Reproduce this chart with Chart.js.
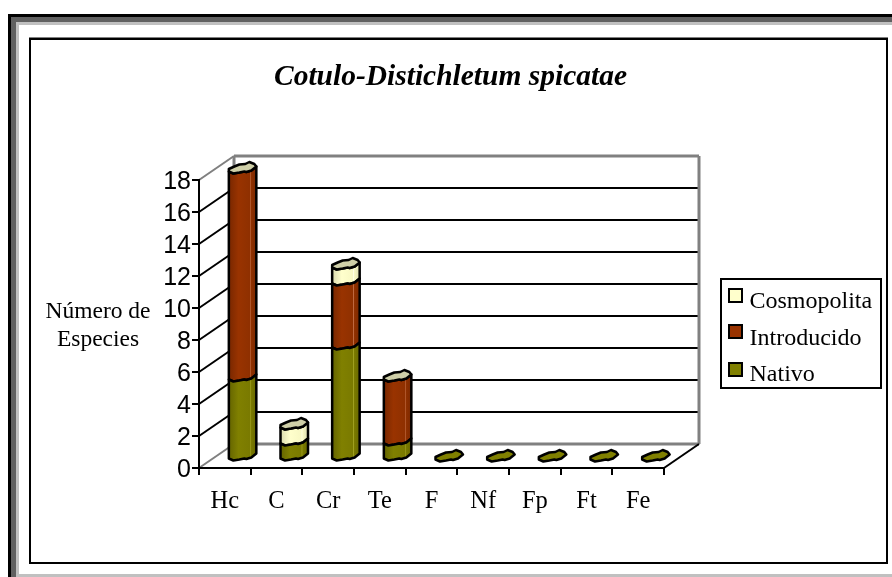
<!DOCTYPE html>
<html>
<head>
<meta charset="utf-8">
<title>Cotulo-Distichletum spicatae</title>
<style>
  html, body { margin: 0; padding: 0; background: #fff; }
  canvas { display: block; }
</style>
<script src="https://cdn.jsdelivr.net/npm/chart.js@4"></script>
</head>
<body>
<canvas id="chart" width="892" height="577"></canvas>
<script>
// Life-form spectrum of the association, split by species origin.
const categories = ['Hc', 'C', 'Cr', 'Te', 'F', 'Nf', 'Fp', 'Ft', 'Fe'];
const nativo      = [5, 1, 7, 1, 0, 0, 0, 0, 0];
const introducido = [13, 0, 4, 4, 0, 0, 0, 0, 0];
const cosmopolita = [0, 1, 1, 0, 0, 0, 0, 0, 0];
const chartTitle = 'Cotulo-Distichletum spicatae';
const axisTitle = ['Número de', 'Especies'];
const yMax = 18;
const yStep = 2;

const SERIF = '"Liberation Serif", "Times New Roman", serif';
const SANS = '"Liberation Sans", Arial, sans-serif';
const DEPTH_X = 35;      // floor depth of the 3D box
const DEPTH_Y = 24;
const WALL_GREY = '#808080';

// Colour stops for each column body: shaded edge, face, highlight strip, far edge.
const bodyShades = {
  '#808000': ['#666600', '#808000', '#7a7a00', '#a0a020', '#6b6b00'],
  '#993300': ['#7a2800', '#993300', '#8f3000', '#c06a40', '#7f2a00'],
  '#FFFFCC': ['#dcdcb0', '#ffffcc', '#f8f8c4', '#ffffe6', '#e0e0b4']
};

// Outline of a column's irregular section, relative to its centre.
const frontEdge = [[-13.5, 3.5], [-9, 5.5], [-3, 4.5], [2, 3.5], [4, 4], [9, 2.5], [14, -1.5]];
const backEdge = [[14, -1.5], [12, -4], [7, -6], [3, -4], [-3, -3.5], [-8, -1.5], [-13.5, 1]];

function traceEdge(ctx, edge, cx, cy, move) {
  edge.forEach(([dx, dy], i) => {
    if (i === 0 && move) ctx.moveTo(cx + dx, cy + dy);
    else ctx.lineTo(cx + dx, cy + dy);
  });
}

// Column segment: a bar pushed to mid-depth of the box with wavy ends.
class CylinderBar extends Chart.BarElement {
  static id = 'cylinderBar';
  draw(ctx) {
    const { x, y, base } = this.getProps(['x', 'y', 'base'], true);
    if (Math.abs(base - y) < 0.5) return;
    const cx = x + DEPTH_X / 2;
    const top = y - DEPTH_Y / 2;
    const bottom = base - DEPTH_Y / 2;
    const shades = bodyShades[this.options.backgroundColor];
    const g = ctx.createLinearGradient(cx - 13, 0, cx + 13, 0);
    g.addColorStop(0, shades[0]);
    g.addColorStop(0.35, shades[1]);
    g.addColorStop(0.78, shades[2]);
    g.addColorStop(0.8, shades[3]);
    g.addColorStop(0.84, shades[2]);
    g.addColorStop(1, shades[4]);
    ctx.save();
    ctx.beginPath();
    traceEdge(ctx, frontEdge, cx, bottom, true);
    traceEdge(ctx, [...frontEdge].reverse(), cx, top, false);
    ctx.closePath();
    ctx.fillStyle = g;
    ctx.fill();
    ctx.lineWidth = 2.5;
    ctx.lineJoin = 'round';
    ctx.strokeStyle = '#000';
    ctx.stroke();
    ctx.restore();
  }
}

class CylinderController extends Chart.BarController {
  static id = 'cylinderBar';
  static defaults = Object.assign({}, Chart.BarController.defaults, {
    dataElementType: 'cylinderBar'
  });
}
Chart.register(CylinderBar, CylinderController);

// Outer picture frame, the plot walls and floor lines behind the columns.
const backdrop = {
  id: 'backdrop',
  beforeDraw(chart) {
    const { ctx, chartArea: a, scales: { y } } = chart;
    ctx.save();
    ctx.fillStyle = '#000';
    ctx.fillRect(8, 14, 884, 563);
    ctx.fillStyle = '#606060';
    ctx.fillRect(11, 17, 881, 560);
    ctx.fillStyle = '#c0c0c0';
    ctx.fillRect(16, 22, 876, 555);
    ctx.fillStyle = '#fff';
    ctx.fillRect(19, 25, 873, 549);
    ctx.fillStyle = '#808080';
    ctx.fillRect(29, 37, 859, 1);
    ctx.lineWidth = 2;
    ctx.strokeStyle = '#000';
    ctx.strokeRect(30, 39, 857, 524);

    const left = a.left, right = a.right;
    const line = (x1, y1, x2, y2, color, width) => {
      ctx.beginPath();
      ctx.moveTo(x1, y1);
      ctx.lineTo(x2, y2);
      ctx.strokeStyle = color;
      ctx.lineWidth = width;
      ctx.stroke();
    };
    // Gridlines run along the side wall and then across the back wall.
    y.ticks.forEach(t => {
      const py = y.getPixelForValue(t.value);
      const edge = t.value === 0 || t.value === yMax;
      const color = edge ? WALL_GREY : '#000';
      line(left, py, left + DEPTH_X, py - DEPTH_Y, color, 2);
      line(left + DEPTH_X, py - DEPTH_Y, right + DEPTH_X, py - DEPTH_Y, color, edge ? 3 : 2);
    });
    const y0 = y.getPixelForValue(0), yTop = y.getPixelForValue(yMax);
    line(left + DEPTH_X, y0 - DEPTH_Y, left + DEPTH_X, yTop - DEPTH_Y, WALL_GREY, 3);
    line(right + DEPTH_X, y0 - DEPTH_Y, right + DEPTH_X, yTop - DEPTH_Y, WALL_GREY, 3);
    line(right, y0, right + DEPTH_X, y0 - DEPTH_Y, '#000', 2);
    ctx.restore();
  }
};

// Caps on the stacks, axis caption and the legend's frame and swatches.
const overlays = {
  id: 'overlays',
  afterLayout(chart) {
    const title = chart.titleBlock;
    title.left = 274;
    title.right = 627;
    const lg = chart.legend;
    lg.left = 718;
    lg.right = 883;
    lg.top = 277.5;
    lg.bottom = 460;
  },
  afterDatasetsDraw(chart) {
    const { ctx } = chart;
    const metas = chart.data.datasets.map((_, i) => chart.getDatasetMeta(i));
    ctx.save();
    categories.forEach((_, i) => {
      let topIndex = -1;
      chart.data.datasets.forEach((d, k) => { if (d.data[i] > 0) topIndex = k; });
      const bar = metas[Math.max(topIndex, 0)].data[i];
      const cx = bar.x + DEPTH_X / 2;
      const cy = bar.y - DEPTH_Y / 2;
      ctx.beginPath();
      traceEdge(ctx, frontEdge, cx, cy, true);
      traceEdge(ctx, backEdge, cx, cy, false);
      ctx.closePath();
      ctx.fillStyle = topIndex < 0 ? chart.data.datasets[0].backgroundColor : '#cfcfa8';
      ctx.fill();
      ctx.lineWidth = 2.5;
      ctx.lineJoin = 'round';
      ctx.strokeStyle = '#000';
      ctx.stroke();
    });
    ctx.restore();
  },
  afterDraw(chart) {
    const { ctx } = chart;
    ctx.save();
    ctx.fillStyle = '#000';
    ctx.font = '23.5px ' + SERIF;
    ctx.textAlign = 'center';
    ctx.textBaseline = 'middle';
    axisTitle.forEach((text, i) => ctx.fillText(text, 98, 312 + i * 28));

    ctx.lineWidth = 2;
    ctx.strokeStyle = '#000';
    ctx.strokeRect(721, 279, 160, 109);
    [...chart.data.datasets].reverse().forEach((d, i) => {
      const sy = [289, 325, 363][i];
      ctx.fillStyle = d.backgroundColor;
      ctx.fillRect(729, sy, 13, 13);
      ctx.strokeRect(729, sy, 13, 13);
    });
    ctx.restore();
  }
};

new Chart(document.getElementById('chart'), {
  type: 'cylinderBar',
  data: {
    labels: categories,
    datasets: [
      { label: 'Nativo', data: nativo, backgroundColor: '#808000', borderColor: '#000', borderWidth: 2, clip: false },
      { label: 'Introducido', data: introducido, backgroundColor: '#993300', borderColor: '#000', borderWidth: 2, clip: false },
      { label: 'Cosmopolita', data: cosmopolita, backgroundColor: '#FFFFCC', borderColor: '#000', borderWidth: 2, clip: false }
    ]
  },
  options: {
    responsive: false,
    animation: false,
    devicePixelRatio: 1,
    barThickness: 26,
    layout: { padding: { left: 0, right: 228, top: 0, bottom: 0 } },
    plugins: {
      tooltip: { enabled: false },
      title: {
        display: true,
        text: chartTitle,
        color: '#000',
        font: { family: SERIF, size: 29.5, weight: 'bold', style: 'italic', lineHeight: 1 },
        padding: { top: 62.5, bottom: 88 }
      },
      legend: {
        position: 'chartArea',
        align: 'start',
        reverse: true,
        labels: {
          color: '#000',
          font: { family: SERIF, size: 24 },
          boxWidth: 7,
          boxHeight: 7,
          padding: 12.5,
          generateLabels(chart) {
            return chart.data.datasets.map((d, i) => ({
              text: d.label,
              datasetIndex: i,
              fillStyle: 'rgba(0,0,0,0)',
              strokeStyle: 'rgba(0,0,0,0)',
              lineWidth: 0
            }));
          }
        }
      }
    },
    scales: {
      x: {
        type: 'category',
        stacked: true,
        offset: true,
        afterFit(s) { s.height = 109; },
        border: { color: '#000', width: 2 },
        grid: { offset: true, drawOnChartArea: false, color: '#000', lineWidth: 2, tickLength: 7 },
        ticks: { color: '#000', font: { family: SERIF, size: 24.5 }, padding: 12, maxRotation: 0, autoSkip: false }
      },
      y: {
        stacked: true,
        min: 0,
        max: yMax,
        afterFit(s) { s.width = 199; },
        border: { color: '#000', width: 2 },
        grid: { drawOnChartArea: false, color: '#000', lineWidth: 2, tickLength: 7 },
        ticks: { color: '#000', stepSize: yStep, autoSkip: false, labelOffset: 2.5, font: { family: SANS, size: 25 }, padding: 1 }
      }
    }
  },
  plugins: [backdrop, overlays]
});
</script>
</body>
</html>
